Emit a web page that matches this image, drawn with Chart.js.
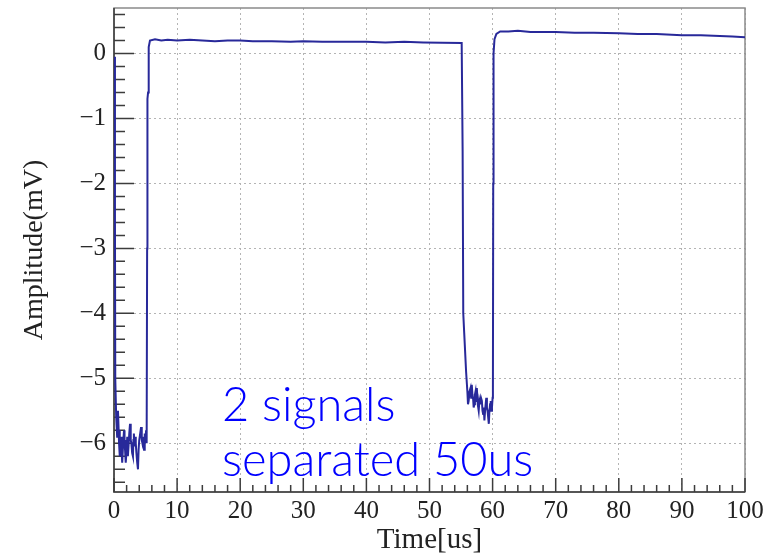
<!DOCTYPE html>
<html>
<head>
<meta charset="utf-8">
<script src="https://cdn.jsdelivr.net/npm/chart.js@4"></script>
<style>
  html, body { margin: 0; padding: 0; background: #fff; }
  #wrap { width: 769px; height: 558px; }
</style>
</head>
<body>
<div id="wrap"><canvas id="waveChart" width="769" height="558"></canvas></div>
<script>
// waveform: time in us, amplitude in mV
const times = [
  0.1, 0.15, 0.2, 0.35, 0.5, 0.63, 0.72, 0.8, 0.88, 0.95, 1.05, 1.15, 1.22, 1.3, 1.45, 1.59,
  1.67, 1.75, 1.82, 1.9, 2.0, 2.1, 2.2, 2.3, 2.42, 2.54, 2.65, 2.75, 2.88, 3.0, 3.08, 3.15,
  3.25, 3.33, 3.45, 3.55, 3.68, 3.8, 3.9, 4.0, 4.15, 4.29, 4.4, 4.5, 4.62, 4.76, 4.84, 4.9,
  5.0, 5.08, 5.15, 5.2, 5.25, 5.3, 5.4, 5.5,
  5.7, 6.5, 7.5, 8.5, 10, 12, 14, 16, 18, 20, 22, 25, 28, 30, 33, 36, 40, 43, 46, 49, 52, 55.1,
  55.25, 55.35, 55.5, 55.8, 56.0, 56.1, 56.2, 56.35, 56.5, 56.6, 56.7, 56.8, 56.9, 57.0, 57.1,
  57.2, 57.3, 57.4, 57.5, 57.65, 57.8, 57.9, 58.0, 58.15, 58.3, 58.4, 58.5, 58.6, 58.7, 58.85,
  59.0, 59.1, 59.2, 59.3, 59.4, 59.5, 59.6, 59.7, 59.8, 59.9, 60.0, 60.05,
  60.1, 60.15, 60.3, 60.6, 61.2, 62.5, 64,
  66, 68, 70, 73, 76, 80, 83, 86, 90, 93, 96, 98, 100
];
const amplitude = [
  -0.05, -2.5, -5.0, -5.6, -5.9, -5.5, -5.75, -6.0, -5.8, -6.2, -6.0, -5.9, -6.15, -6.3, -6.0, -5.8,
  -6.0, -6.1, -5.95, -6.3, -6.1, -5.9, -6.2, -6.05, -5.85, -5.7, -5.95, -6.0, -6.15, -6.2, -5.95, -5.85,
  -6.05, -5.9, -6.0, -6.15, -6.3, -6.4, -6.1, -5.95, -5.85, -5.75, -5.95, -6.0, -5.9, -6.1, -5.95, -5.85,
  -6.0, -5.8, -5.95, -6.0, -3.0, -0.7, -0.6, 0.1,
  0.2, 0.22, 0.2, 0.21, 0.2, 0.21, 0.2, 0.19, 0.2, 0.2, 0.19, 0.19, 0.18, 0.19, 0.18, 0.18, 0.18, 0.17, 0.18, 0.17, 0.165, 0.16,
  -1.5, -4.0, -4.3, -4.9, -5.2, -5.4, -5.35, -5.2, -5.15, -5.3, -5.1, -5.25, -5.3, -5.45, -5.4,
  -5.25, -5.2, -5.35, -5.15, -5.4, -5.5, -5.35, -5.4, -5.3, -5.35, -5.5, -5.55, -5.45, -5.65, -5.45,
  -5.3, -5.45, -5.5, -5.6, -5.7, -5.5, -5.4, -5.35, -5.5, -5.45, -5.3, -5.2,
  -2.0, 0.0, 0.22, 0.3, 0.34, 0.34, 0.35,
  0.33, 0.33, 0.33, 0.32, 0.32, 0.31, 0.3, 0.3, 0.28, 0.28, 0.27, 0.26, 0.25
];
const xTicks = [0, 10, 20, 30, 40, 50, 60, 70, 80, 90, 100];
const yTicks = [-6, -5, -4, -3, -2, -1, 0];
const noteLines = ['2 signals', 'separated 50us'];

let points = times.map(function(t, i) { return { x: t, y: amplitude[i] }; });

// ROOT style frame with inward ticks, plus the blue note
const framePlugin = {
  id: 'frame',
  beforeDatasetsDraw: function(chart) {
    let ctx = chart.ctx;
    let a = chart.chartArea;
    let xs = chart.scales.x, ys = chart.scales.y;
    ctx.save();
    ctx.strokeStyle = '#8a8a8a';
    ctx.lineWidth = 1.5;
    ctx.strokeRect(a.left, a.top, a.right - a.left, a.bottom - a.top);

    ctx.strokeStyle = '#3c3c3c';
    ctx.lineWidth = 1.5;
    ctx.beginPath();
    for (let v = 0; v <= 100; v += 2) {
      let px = xs.getPixelForValue(v);
      let len = (v % 10 === 0) ? 14 : 7;
      ctx.moveTo(px, a.bottom);
      ctx.lineTo(px, a.bottom - len);
    }
    for (let k = -33; k <= 3; k++) {
      let py = ys.getPixelForValue(k * 0.2);
      let len = (k % 5 === 0) ? 20 : 11;
      ctx.moveTo(a.left, py);
      ctx.lineTo(a.left + len, py);
    }
    ctx.stroke();
    ctx.beginPath();
    ctx.moveTo(a.left, a.top);
    ctx.lineTo(a.left, a.bottom);
    ctx.lineTo(a.right, a.bottom);
    ctx.stroke();
    ctx.restore();
  },
  afterDraw: function(chart) {
    let ctx = chart.ctx;
    ctx.save();
    ctx.fillStyle = '#0000ff';
    ctx.font = '300 40px Lato, "Noto Sans", sans-serif';
    // fit the second line to its width in the picture
    let size = 40 * 311 / ctx.measureText(noteLines[1]).width;
    ctx.font = '300 ' + size.toFixed(1) + 'px Lato, "Noto Sans", sans-serif';
    ctx.textBaseline = 'alphabetic';
    ctx.fillText(noteLines[0], 222, 421);
    ctx.fillText(noteLines[1], 222, 476);
    ctx.restore();
  }
};

function initializeChart() {
  let ctx = document.getElementById('waveChart').getContext('2d');
  let tickFont = { family: '"Liberation Serif", "Times New Roman", serif', size: 25 };
  let myChart = new Chart(ctx, {
    type: 'line',
    data: {
      datasets: [{
        data: points,
        borderColor: '#28299a',
        borderWidth: 2,
        pointRadius: 0,
        tension: 0,
        fill: false
      }]
    },
    options: {
      responsive: false,
      animation: false,
      layout: { padding: { top: 8, right: 24, left: 0, bottom: 0 } },
      plugins: { legend: { display: false }, tooltip: { enabled: false } },
      scales: {
        x: {
          type: 'linear',
          min: 0,
          max: 100,
          afterBuildTicks: function(s) { s.ticks = xTicks.map(function(v) { return { value: v }; }); },
          afterFit: function(s) { s.height = 66; s.paddingLeft = 0; s.paddingRight = 0; },
          ticks: { font: tickFont, color: '#222', padding: 4, maxRotation: 0, autoSkip: false },
          grid: { color: '#b4b4b4', lineWidth: 1, drawTicks: false },
          border: { display: false, dash: [2, 3] },
          title: {
            display: true, text: 'Time[us]', color: '#222', padding: { top: 0, bottom: 0 },
            font: { family: '"Liberation Serif", "Times New Roman", serif', size: 29 }
          }
        },
        y: {
          min: -6.75,
          max: 0.7,
          afterBuildTicks: function(s) { s.ticks = yTicks.map(function(v) { return { value: v }; }); },
          afterFit: function(s) { s.width = 114; s.paddingTop = 0; s.paddingBottom = 0; },
          ticks: {
            font: tickFont,
            color: '#222',
            padding: 8,
            callback: function(v) { return v < 0 ? '\u2212' + Math.abs(v) : String(v); }
          },
          grid: { color: '#b4b4b4', lineWidth: 1, drawTicks: false },
          border: { display: false, dash: [2, 3] },
          title: {
            display: true, text: 'Amplitude(mV)', color: '#222', padding: { top: 18, bottom: 0 },
            font: { family: '"Liberation Serif", "Times New Roman", serif', size: 28 }
          }
        }
      }
    },
    plugins: [framePlugin]
  });
}

initializeChart();
</script>
</body>
</html>
